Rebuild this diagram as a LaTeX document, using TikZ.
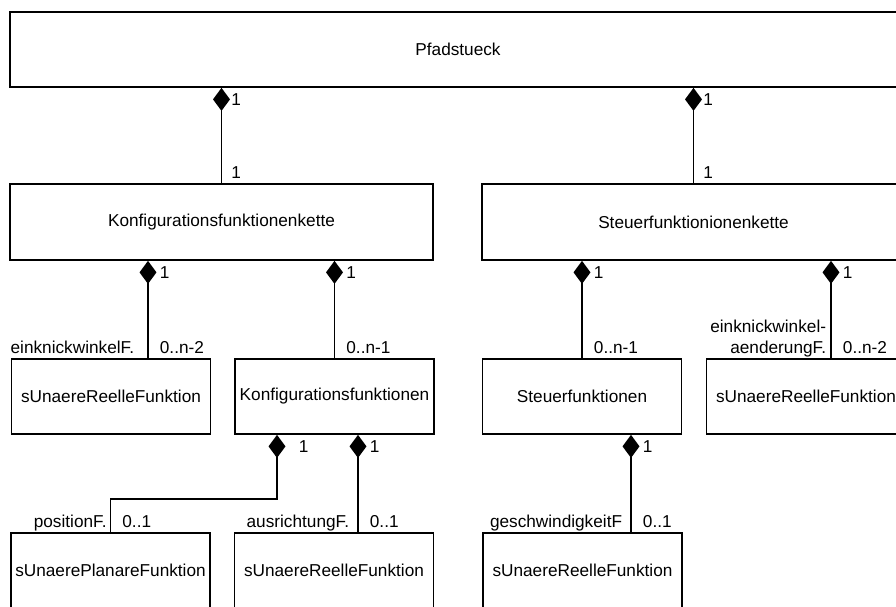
\documentclass[tikz,border=0pt]{standalone}
\usepackage{fontspec}
\setmainfont{Liberation Sans}
\usetikzlibrary{arrows.meta}

\begin{document}
\begin{tikzpicture}[
  x=0.02cm,y=-0.02cm,
  every node/.style={font=\fontsize{9.8}{11.5}\selectfont},
  cls/.style={draw, line width=1pt, minimum height=1.5cm, inner sep=0pt},
  wide/.style={cls, minimum width=8.46cm},
  narrow/.style={cls, minimum width=3.98cm},
  comp/.style={{Diamond[length=0.46cm,width=0.34cm]}-, line width=1.05pt},
  mult/.style={anchor=base west, inner sep=0pt, xshift=0.22cm},
  multtop/.style={mult, yshift=-0.36cm},
  multbot/.style={mult, yshift=0.1cm},
  role/.style={anchor=base east, inner sep=0pt, xshift=-0.16cm, yshift=0.1cm, align=right}
]
\useasboundingbox (0,0) rectangle (896,606);
\node[cls, minimum width=17.92cm] (pf) at (458,49.5) {Pfadstueck};
\node[wide, minimum height=1.52cm] (kk) at (221.5,222) {Konfigurationsfunktionenkette};
\node[wide, minimum height=1.52cm] (sk) at (693.5,222) {Steuerfunktionionenkette};
\node[narrow] (sr1) at (111,396.5) {sUnaereReelleFunktion};
\node[narrow] (kf) at (334.5,396.5) {Konfigurationsfunktionen};
\node[narrow] (sf) at (582,396.5) {Steuerfunktionen};
\node[narrow] (sr2) at (806,396.5) {sUnaereReelleFunktion};
\node[narrow] (sp) at (110.5,570.5) {sUnaerePlanareFunktion};
\node[narrow] (sr3) at (334,570.5) {sUnaereReelleFunktion};
\node[narrow] (sr4) at (582.5,570.5) {sUnaereReelleFunktion};
% Pfadstueck
\draw[comp] (pf.south -| kk.north) node[multtop, xshift=-0.04cm] {1} -- (kk.north) node[multbot, xshift=-0.04cm] {1};
\draw[comp] (pf.south -| sk.north) node[multtop, xshift=-0.04cm] {1} -- (sk.north) node[multbot, xshift=-0.04cm] {1};
% Konfigurationsfunktionenkette
\draw[comp] (148,0 |- kk.south) node[multtop] {1} -- (148,0 |- sr1.north) node[multbot] {0..n-2} node[role, xshift=-0.1cm] {einknickwinkelF.};
\draw[comp] (kk.south -| kf.north) node[multtop] {1} -- (kf.north) node[multbot] {0..n-1};
% Steuerfunktionionenkette
\draw[comp] (sk.south -| sf.north) node[multtop] {1} -- (sf.north) node[multbot] {0..n-1};
\draw[comp] (831,0 |- sk.south) node[multtop] {1} -- (831,0 |- sr2.north) node[multbot] {0..n-2} node[role, xshift=0.08cm] {einknickwinkel-\\aenderungF.};
% Konfigurationsfunktionen
\draw[comp] (277,0 |- kf.south) node[multtop, xshift=0.2cm] {1} -- ++(0,64) -| (sp.north) node[multbot] {0..1} node[role, xshift=0.1cm] {positionF.};
\draw[comp] (358,0 |- kf.south) node[multtop] {1} -- (358,0 |- sr3.north) node[multbot] {0..1} node[role] {ausrichtungF.};
% Steuerfunktionen
\draw[comp] (631,0 |- sf.south) node[multtop] {1} -- (631,0 |- sr4.north) node[multbot] {0..1} node[role] {geschwindigkeitF};
\end{tikzpicture}
\end{document}
